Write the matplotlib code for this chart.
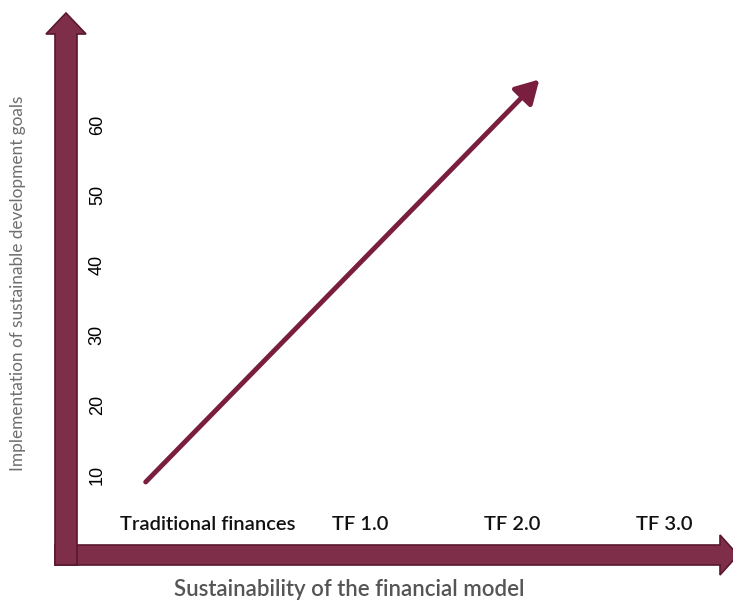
import matplotlib.pyplot as plt
from matplotlib.patches import FancyArrow

# categories along the horizontal axis
categories = ['Traditional finances', 'TF 1.0', 'TF 2.0', 'TF 3.0']
y_ticks = [10, 20, 30, 40, 50, 60]

# the trend line (start, end)
trend_x = [-0.41, 2.18]
trend_y = [9, 66.5]

fill = '#7f2e4a'
edge = '#5a1730'
line_col = '#7a1e3f'

fig = plt.figure(figsize=(7.33, 6.06), dpi=100)

# background axes in pixel units for the big arrow axes
bg = fig.add_axes([0, 0, 1, 1])
bg.set_xlim(0, 733)
bg.set_ylim(606, 0)
bg.axis('off')

# horizontal arrow, then vertical one on top
bg.add_patch(FancyArrow(55, 555, 683, 0, width=20, head_width=40, head_length=18,
                        length_includes_head=True, facecolor=fill, edgecolor=edge, lw=1.2))
bg.add_patch(FancyArrow(66, 565, 0, -552, width=22, head_width=40, head_length=21,
                        length_includes_head=True, facecolor=fill, edgecolor=edge, lw=1.2))

# main data axes
left_px, right_px, top_px, bottom_px = 110, 733, 10, 512
ax = fig.add_axes([left_px / 733, (606 - bottom_px) / 606,
                   (right_px - left_px) / 733, (bottom_px - top_px) / 606])
ax.patch.set_alpha(0)
ax.set_xlim((left_px - 208) / 152, (right_px - 208) / 152)
ax.set_ylim(10 - (bottom_px - 475) / 7, 10 + (475 - top_px) / 7)
for s in ax.spines.values():
    s.set_visible(False)

ax.annotate('', xy=(trend_x[1], trend_y[1]), xytext=(trend_x[0], trend_y[0]),
            arrowprops=dict(arrowstyle='-|>,head_length=0.7,head_width=0.4',
                            mutation_scale=20, lw=3.5, color=line_col,
                            shrinkA=0, shrinkB=0, capstyle='round'))

ax.set_xticks(range(len(categories)))
ax.set_xticklabels(categories, fontfamily='Lato', fontweight='semibold',
                   fontsize=14.5, color='#111111')
ax.set_yticks(y_ticks)
ax.set_yticklabels([str(v) for v in y_ticks], rotation=90, va='center',
                   fontfamily='Liberation Sans', fontsize=13, color='#000000')
ax.tick_params(length=0, pad=3)

fig.text(18 / 733, 1 - 283 / 606, 'Implementation of sustainable development goals',
         rotation=90, ha='center', va='center', fontfamily='Lato', fontsize=12.4,
         color='#6e6e6e')
fig.text(349 / 733, 1 - 590 / 606, 'Sustainability of the financial model',
         ha='center', va='center', fontfamily='Lato', fontweight='semibold',
         fontsize=16, color='#555555')

fig.savefig('out.png', dpi=100)
